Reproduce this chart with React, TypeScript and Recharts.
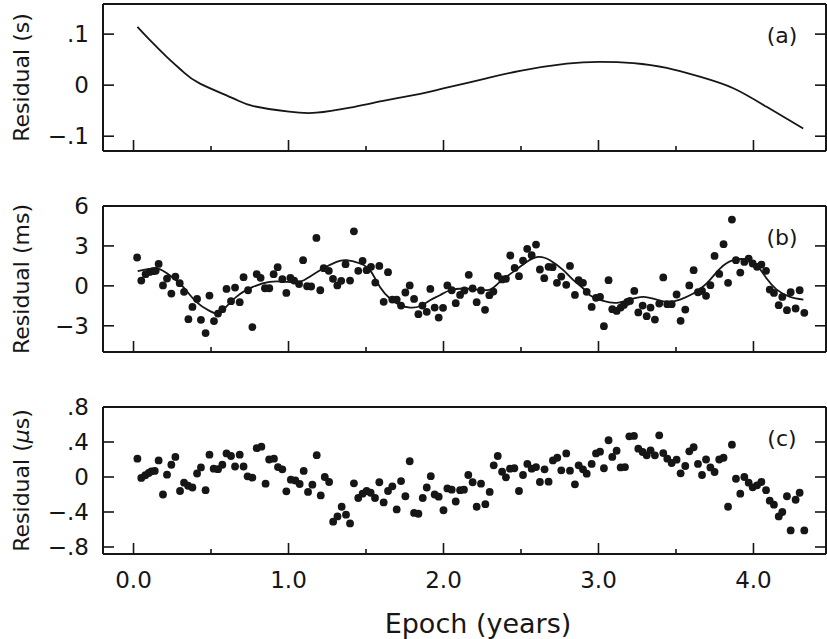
import { ComposedChart, Line, Scatter, XAxis, YAxis } from 'recharts';

const FONT = '"DejaVu Sans", sans-serif';
const INK = '#161616';

// shared epoch axis (years)
const epochDomain: [number, number] = [-0.197, 4.468];
const epochTicks = [0, 0.5, 1, 1.5, 2, 2.5, 3, 3.5, 4];

// (a) residual in seconds, smooth curve
const aTicks = [-0.1, 0, 0.1];
const aTickLabels = ['−.1', '0', '.1'];
const aCurve: [number, number][] = [
  [0.025, 0.114], [0.106, 0.088], [0.214, 0.0555], [0.321, 0.026], [0.429, 0.003],
  [0.644, -0.026], [0.773, -0.041], [1.003, -0.052], [1.18, -0.054], [1.397, -0.044],
  [1.61, -0.031], [1.85, -0.017], [1.999, -0.0065], [2.257, 0.012], [2.494, 0.028],
  [2.795, 0.042], [3.01, 0.0457], [3.225, 0.0432], [3.44, 0.034], [3.655, 0.0165],
  [3.87, -0.006], [4.085, -0.0425], [4.321, -0.085],
];

// (b) residual in ms, points and fitted curve
const bTicks = [-3, 0, 3, 6];
const bTickLabels = ['−3', '0', '3', '6'];
const bPoints: [number, number][] = [
  [0.023, 2.13], [0.05, 0.4], [0.078, 0.88], [0.104, 1.05], [0.126, 1.1], [0.143, 1.13],
  [0.162, 1.65], [0.19, 0.03], [0.216, 0.55], [0.244, -0.58], [0.27, 0.7], [0.298, 0.2],
  [0.326, -0.45], [0.354, -2.5], [0.38, -1.58], [0.41, -0.98], [0.435, -2.55], [0.465, -3.55],
  [0.49, -0.73], [0.519, -2.65], [0.545, -2.08], [0.573, -1.75], [0.6, -0.23], [0.629, -1.15],
  [0.655, -0.13], [0.685, -1.23], [0.71, 0.65], [0.739, -0.33], [0.767, -3.1], [0.795, 0.88],
  [0.82, 0.6], [0.848, -0.18], [0.876, -0.18], [0.904, 0.88], [0.93, 1.4], [0.96, 0.5],
  [0.986, -0.53], [1.012, 0.6], [1.036, 0.4], [1.068, 0.13], [1.094, 1.93], [1.12, -0.03],
  [1.146, -0.05], [1.18, 3.6], [1.205, -0.33], [1.227, 1.33], [1.26, 1.13], [1.287, 0.53],
  [1.315, 0.03], [1.34, 0.38], [1.368, 1.63], [1.397, 0.4], [1.422, 4.1], [1.45, 1.13],
  [1.478, 1.88], [1.504, 1.18], [1.532, 1.43], [1.56, 0.25], [1.586, 1.5], [1.614, -1.2],
  [1.642, 1.03], [1.67, -1.03], [1.698, -1.03], [1.726, -1.48], [1.754, -0.5], [1.782, 0.03],
  [1.81, -0.98], [1.838, -2.13], [1.864, -1.48], [1.892, -1.95], [1.915, -0.23], [1.943, -1.63],
  [1.969, -2.38], [1.997, -1.65], [2.025, 0.03], [2.053, -0.33], [2.079, -1.3], [2.107, -0.68],
  [2.135, -0.35], [2.163, 0.83], [2.188, -0.2], [2.214, -1.23], [2.242, -0.35], [2.268, -1.8],
  [2.296, -0.7], [2.322, -0.43], [2.35, 0.75], [2.378, 0.48], [2.403, 0.53], [2.431, 2.28],
  [2.459, 1.35], [2.487, 0.73], [2.513, 1.9], [2.54, 2.78], [2.569, 2.3], [2.597, 3.1],
  [2.622, 1.23], [2.65, 0.58], [2.678, 1.43], [2.704, 1.4], [2.732, 0.23], [2.76, 0.7],
  [2.792, 0.08], [2.816, 1.5], [2.848, -0.68], [2.872, 0.43], [2.9, 0.23], [2.924, -0.45],
  [2.956, -1.58], [2.984, -0.9], [3.01, -0.83], [3.035, -3.03], [3.065, 0.43], [3.089, -1.75],
  [3.117, -1.88], [3.143, -1.63], [3.164, -1.43], [3.186, -1.2], [3.203, -1.13], [3.231, -0.38],
  [3.257, -2.0], [3.285, -1.48], [3.311, -2.28], [3.336, -1.63], [3.364, -2.53], [3.392, -1.33],
  [3.418, 0.63], [3.444, -1.38], [3.472, -1.38], [3.504, -0.65], [3.53, -2.63], [3.56, -1.78],
  [3.586, 0.03], [3.614, 1.18], [3.642, -0.48], [3.668, -0.38], [3.694, -0.75], [3.722, 0.05],
  [3.749, 2.25], [3.779, 0.9], [3.807, 3.13], [3.836, 0.23], [3.861, 4.98], [3.887, 1.93],
  [3.915, 1.0], [3.941, 1.8], [3.969, 2.05], [3.995, 1.68], [4.023, 1.43], [4.051, 1.6],
  [4.081, 1.13], [4.105, -0.28], [4.132, -0.53], [4.163, -1.45], [4.186, -0.83], [4.216, -1.83],
  [4.24, -0.48], [4.272, -1.7], [4.298, -0.33], [4.328, -2.03],
];
const bFit: [number, number][] = [
  [0.027, 1.1], [0.083, 1.23], [0.158, 1.3], [0.233, 0.8], [0.32, -0.08], [0.405, -1.2],
  [0.49, -1.88], [0.534, -2.08], [0.577, -1.83], [0.663, -0.83], [0.77, -0.08], [0.878, 0.3],
  [0.986, 0.3], [1.072, 0.3], [1.137, 0.68], [1.223, 1.3], [1.31, 1.8], [1.375, 1.93],
  [1.461, 1.68], [1.526, 1.18], [1.59, -0.08], [1.655, -0.95], [1.719, -1.45], [1.784, -1.63],
  [1.848, -1.53], [1.913, -1.08], [1.977, -0.7], [2.042, -0.33], [2.128, -0.2], [2.214, -0.28],
  [2.3, -0.28], [2.364, 0.3], [2.45, 1.05], [2.536, 1.8], [2.612, 2.18], [2.687, 1.93],
  [2.773, 1.18], [2.838, 0.43], [2.902, -0.2], [2.945, -0.7], [3.031, -1.13], [3.117, -1.28],
  [3.203, -1.03], [3.289, -0.83], [3.375, -1.03], [3.45, -1.2], [3.526, -1.03], [3.612, -0.58],
  [3.698, 0.18], [3.784, 1.3], [3.87, 1.93], [3.956, 1.98], [4.021, 1.55], [4.085, 0.55],
  [4.15, -0.28], [4.236, -0.83], [4.322, -1.03],
];

// (c) residual in microseconds, points only
const cTicks = [-0.8, -0.4, 0, 0.4, 0.8];
const cTickLabels = ['−.8', '−.4', '0', '.4', '.8'];
const cPoints: [number, number][] = [
  [0.025, 0.21], [0.05, -0.01], [0.076, 0.02], [0.098, 0.046], [0.115, 0.065], [0.137, 0.069],
  [0.162, 0.19], [0.19, -0.2], [0.216, 0.027], [0.244, 0.14], [0.27, 0.23], [0.3, -0.16],
  [0.326, -0.065], [0.352, -0.1], [0.38, -0.12], [0.41, 0.04], [0.435, 0.11], [0.465, -0.15],
  [0.49, 0.255], [0.517, 0.095], [0.545, 0.09], [0.573, 0.14], [0.6, 0.27], [0.629, 0.24],
  [0.655, 0.12], [0.685, 0.255], [0.71, 0.12], [0.736, 0.008], [0.767, -0.008], [0.795, 0.33],
  [0.825, 0.347], [0.852, -0.076], [0.875, 0.2], [0.906, 0.21], [0.932, 0.114], [0.96, 0.088],
  [0.986, -0.164], [1.015, -0.03], [1.044, -0.04], [1.072, -0.08], [1.098, 0.069], [1.126, -0.17],
  [1.154, -0.088], [1.182, 0.25], [1.208, -0.21], [1.234, 0], [1.262, -0.057], [1.288, -0.51],
  [1.316, -0.45], [1.343, -0.34], [1.371, -0.43], [1.397, -0.53], [1.422, -0.072], [1.45, -0.24],
  [1.478, -0.19], [1.504, -0.16], [1.53, -0.18], [1.558, -0.24], [1.586, -0.06], [1.614, -0.29],
  [1.642, -0.16], [1.67, -0.107], [1.698, -0.37], [1.726, -0.046], [1.754, -0.22], [1.782, 0.18],
  [1.81, -0.41], [1.838, -0.42], [1.866, -0.24], [1.892, -0.12], [1.918, 0.01], [1.943, -0.2],
  [1.969, -0.225], [2.0, -0.38], [2.025, -0.13], [2.053, -0.145], [2.079, -0.28], [2.107, -0.15],
  [2.132, -0.145], [2.16, 0.023], [2.188, -0.06], [2.214, -0.34], [2.242, -0.076], [2.27, -0.31],
  [2.298, -0.17], [2.324, 0.133], [2.35, 0.24], [2.378, 0.06], [2.403, -0.004], [2.429, 0.095],
  [2.457, 0.1], [2.487, -0.16], [2.513, 0.023], [2.541, 0.15], [2.569, 0.095], [2.597, 0.114],
  [2.622, -0.057], [2.652, 0.088], [2.678, -0.053], [2.706, 0.19], [2.734, 0.22], [2.76, 0.076],
  [2.792, 0.27], [2.816, 0.072], [2.848, -0.084], [2.872, 0.133], [2.9, 0.088], [2.924, 0.038],
  [2.956, 0.15], [2.984, 0.27], [3.01, 0.29], [3.035, 0.1], [3.065, 0.42], [3.089, 0.23],
  [3.117, 0.3], [3.143, 0.11], [3.171, 0.114], [3.199, 0.465], [3.229, 0.47], [3.257, 0.324],
  [3.285, 0.286], [3.311, 0.248], [3.336, 0.305], [3.364, 0.248], [3.392, 0.476], [3.418, 0.274],
  [3.444, 0.21], [3.472, 0.16], [3.504, 0.198], [3.53, 0.042], [3.56, 0.126], [3.586, 0.293],
  [3.614, 0.34], [3.642, 0.149], [3.668, 0.023], [3.694, 0.2], [3.722, 0.11], [3.749, 0.057],
  [3.779, 0.2], [3.807, 0.22], [3.836, -0.34], [3.861, 0.37], [3.887, -0.02], [3.915, -0.19],
  [3.941, 0], [3.969, -0.065], [3.995, -0.118], [4.023, -0.095], [4.051, -0.057], [4.081, -0.15],
  [4.105, -0.27], [4.132, -0.316], [4.163, -0.45], [4.186, -0.4], [4.216, -0.22], [4.24, -0.61],
  [4.272, -0.26], [4.298, -0.18], [4.328, -0.61],
];

const toRows = (pairs: [number, number][]) => pairs.map(([t, v]) => ({ t, v }));

const MAJOR = 11;
const MINOR = 5;

// ticks point inward, so they are drawn by hand from the frame
const bottomTick = (showLabel: boolean) => (props: any) => {
  const { x, y, payload } = props;
  const major = Number.isInteger(payload.value);
  return (
    <g>
      <line x1={x} x2={x} y1={y} y2={y - (major ? MAJOR : MINOR)} stroke={INK} strokeWidth={1.6} />
      {showLabel && major && (
        <text x={x} y={y + 34} textAnchor="middle" fontSize={23} fontFamily={FONT} fill={INK}>
          {payload.value.toFixed(1)}
        </text>
      )}
    </g>
  );
};

const topTick = (props: any) => {
  const { x, y, payload } = props;
  const major = Number.isInteger(payload.value);
  return <line x1={x} x2={x} y1={y} y2={y + (major ? MAJOR : MINOR)} stroke={INK} strokeWidth={1.6} />;
};

const leftTick = (ticks: number[], labels: string[]) => (props: any) => {
  const { x, y, payload } = props;
  const label = labels[ticks.indexOf(payload.value)];
  return (
    <g>
      <line x1={x} x2={x + MAJOR} y1={y} y2={y} stroke={INK} strokeWidth={1.6} />
      <text x={x - 14} y={y} textAnchor="end" dominantBaseline="central" fontSize={23} fontFamily={FONT} fill={INK}>
        {label}
      </text>
    </g>
  );
};

const rightTick = (props: any) => {
  const { x, y } = props;
  return <line x1={x} x2={x - MAJOR} y1={y} y2={y} stroke={INK} strokeWidth={1.6} />;
};

const YTitle = (props: any) => {
  const { viewBox, children } = props;
  const cx = 21;
  const cy = viewBox.y + viewBox.height / 2;
  return (
    <text x={cx} y={cy} transform={`rotate(-90 ${cx} ${cy})`} textAnchor="middle" dominantBaseline="central"
      fontSize={22} fontFamily={FONT} fill={INK}>
      {children}
    </text>
  );
};

const Tag = (props: any) => {
  const { viewBox, text } = props;
  return (
    <text x={viewBox.x - 44} y={viewBox.y + 31} textAnchor="middle" dominantBaseline="central"
      fontSize={22} fontFamily={FONT} fill={INK}>
      {text}
    </text>
  );
};

const XTitle = (props: any) => {
  const { viewBox } = props;
  return (
    <text x={478} y={viewBox.y + 79} textAnchor="middle" fontSize={27} fontFamily={FONT} fill={INK}>
      Epoch (years)
    </text>
  );
};

const dot = (p: any) => <circle cx={p.cx} cy={p.cy} r={3.9} fill={INK} />;

interface PanelProps {
  top: number;
  marginTop: number;
  plotHeight: number;
  bottomHeight: number;
  yDomain: [number, number];
  yTicks: number[];
  yLabels: string[];
  title: any;
  tag: string;
  curve?: [number, number][];
  points?: [number, number][];
  last?: boolean;
}

function Panel({ top, marginTop, plotHeight, bottomHeight, yDomain, yTicks, yLabels, title, tag, curve, points, last }: PanelProps) {
  const height = marginTop + 1 + plotHeight + bottomHeight;
  return (
    <div style={{ position: 'absolute', left: 0, top }}>
      <ComposedChart width={827} height={height} margin={{ top: marginTop, right: 0, bottom: 0, left: 0 }}>
        <XAxis
          xAxisId="b"
          dataKey="t"
          type="number"
          domain={epochDomain}
          allowDataOverflow
          ticks={epochTicks}
          interval={0}
          height={bottomHeight}
          tickSize={0}
          tickMargin={0}
          tickLine={false}
          axisLine={{ stroke: INK, strokeWidth: 2 }}
          tick={bottomTick(!!last)}
          label={last ? <XTitle /> : undefined}
        />
        <XAxis
          xAxisId="top"
          orientation="top"
          type="number"
          domain={epochDomain}
          allowDataOverflow
          ticks={epochTicks}
          interval={0}
          height={1}
          tickSize={0}
          tickMargin={0}
          tickLine={false}
          axisLine={{ stroke: INK, strokeWidth: 2 }}
          tick={topTick}
        />
        <YAxis
          yAxisId="l"
          dataKey="v"
          type="number"
          domain={yDomain}
          allowDataOverflow
          ticks={yTicks}
          interval={0}
          width={103}
          tickSize={0}
          tickMargin={0}
          tickLine={false}
          axisLine={{ stroke: INK, strokeWidth: 2 }}
          tick={leftTick(yTicks, yLabels)}
          label={<YTitle>{title}</YTitle>}
        />
        <YAxis
          yAxisId="r"
          orientation="right"
          type="number"
          domain={yDomain}
          allowDataOverflow
          ticks={yTicks}
          interval={0}
          width={1}
          tickSize={0}
          tickMargin={0}
          tickLine={false}
          axisLine={{ stroke: INK, strokeWidth: 2 }}
          tick={rightTick}
          label={<Tag text={tag} />}
        />
        {points && (
          <Scatter xAxisId="b" yAxisId="l" data={toRows(points)} dataKey="v" shape={dot} isAnimationActive={false} />
        )}
        {curve && (
          <Line xAxisId="b" yAxisId="l" data={toRows(curve)} dataKey="v" type="natural" stroke={INK}
            strokeWidth={1.8} dot={false} activeDot={false} isAnimationActive={false} />
        )}
      </ComposedChart>
    </div>
  );
}

export default function App() {
  return (
    <div style={{ position: 'absolute', left: 0, top: 0, width: 827, height: 639, background: '#fff', overflow: 'hidden' }}>
      <Panel top={0} marginTop={3} plotHeight={147} bottomHeight={1} yDomain={[-0.129, 0.159]}
        yTicks={aTicks} yLabels={aTickLabels} title="Residual (s)" tag="(a)" curve={aCurve} />
      <Panel top={185} marginTop={20} plotHeight={146} bottomHeight={8} yDomain={[-4.97, 6]}
        yTicks={bTicks} yLabels={bTickLabels} title="Residual (ms)" tag="(b)" curve={bFit} points={bPoints} />
      <Panel top={385} marginTop={21} plotHeight={147} bottomHeight={85} yDomain={[-0.88, 0.8]}
        yTicks={cTicks} yLabels={cTickLabels}
        title={<>Residual (<tspan fontStyle="italic">μ</tspan>s)</>} tag="(c)" points={cPoints} last />
    </div>
  );
}
